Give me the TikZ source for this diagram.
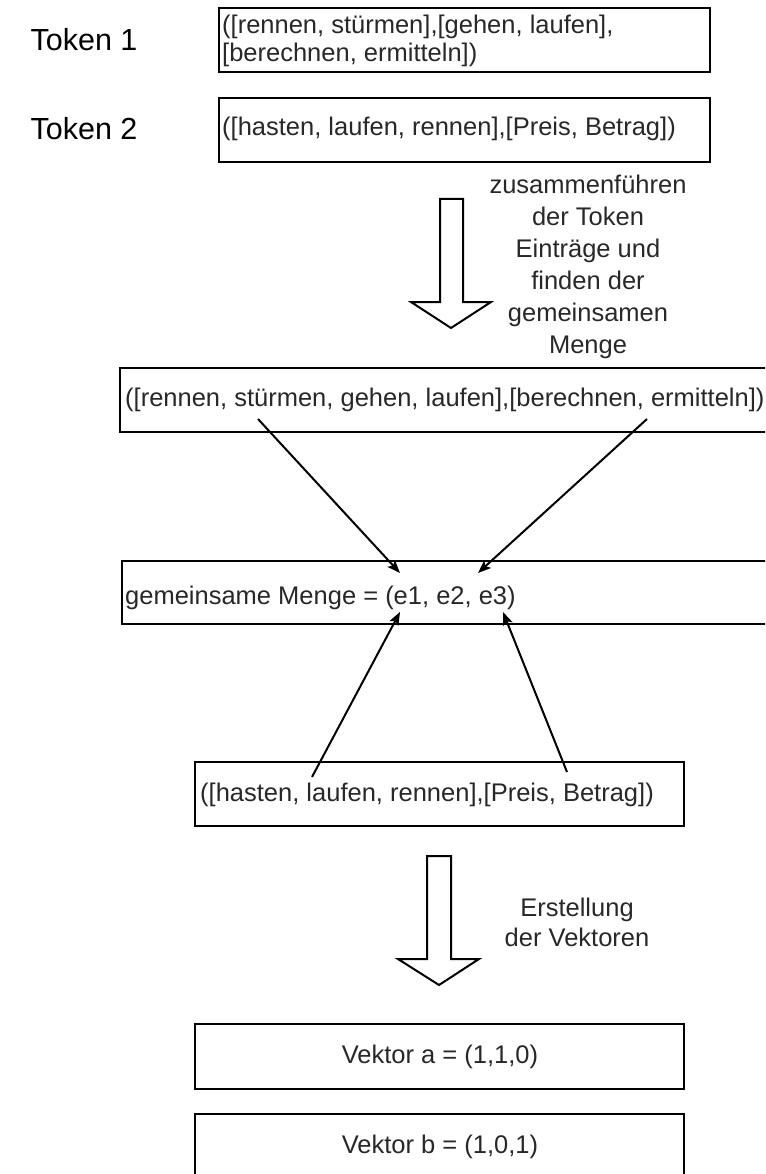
\documentclass[tikz,border=0pt]{standalone}
\usepackage{fontspec}
\setmainfont{Liberation Sans}
\usetikzlibrary{arrows.meta}
\definecolor{txt}{RGB}{40,40,40}
\tikzset{
  box/.style={draw=black, line width=2.2pt, fill=white, inner sep=0pt, anchor=north west},
  boxtext/.style={text=txt, font=\fontsize{25.5pt}{28pt}\selectfont, inner sep=0pt, anchor=west},
  tokenlabel/.style={text=black, font=\fontsize{30.5pt}{36pt}\selectfont, inner sep=0pt},
  note/.style={text=txt, font=\fontsize{25.5pt}{32pt}\selectfont, inner sep=0pt, align=center},
  conn/.style={line width=2pt, -{Stealth[length=13pt,width=10pt,inset=3pt]}},
  hollow/.style={draw=black, line width=2pt, fill=white, line join=miter},
}
\begin{document}
\begin{tikzpicture}[x=1pt,y=-1pt]
\useasboundingbox (0,0) rectangle (765,1174);
\clip (0,0) rectangle (765,1174);

% token labels
\node[tokenlabel] (tok1) at (84,40) {Token 1};
\node[tokenlabel] (tok2) at (84,129) {Token 2};

% token entry boxes
\node[box, minimum width=491pt, minimum height=64pt] (t1box) at (218,7) {};
\node[boxtext, align=left] (t1text) at (222,40.5) {([rennen, stürmen],[gehen, laufen],\\\relax[berechnen, ermitteln])};
\node[box, minimum width=491pt, minimum height=64pt] (t2box) at (218,97) {};
\node[boxtext] (t2text) at (222,129) {([hasten, laufen, rennen],[Preis, Betrag])};

% merge step arrow
\path[hollow] (440,199) -- (463,199) -- (463,302) -- (491,302) -- (451,328)
  -- (411,302) -- (440,302) -- cycle;
\node[note] (mergenote) at (588,267) {zusammenführen\\der Token\\Einträge und\\finden der\\gemeinsamen\\Menge};

% merged entries
\node[box, minimum width=660pt, minimum height=64pt] (mergedbox) at (119,367) {};
\node[boxtext] (mergedtext) at (125,400) {([rennen, stürmen, gehen, laufen],[berechnen, ermitteln])};

% common set
\node[box, minimum width=660pt, minimum height=63pt] (setbox) at (121,560) {};
\node[boxtext] (settext) at (125,598) {gemeinsame Menge = (e1, e2, e3)};

% second token
\node[box, minimum width=489pt, minimum height=64pt] (tok2box) at (194,761) {};
\node[boxtext] (tok2text) at (200,795) {([hasten, laufen, rennen],[Preis, Betrag])};

% connectors into the common set
\coordinate (m1) at (258,419);
\coordinate (m2) at (647,419);
\coordinate (s1) at (400,573);
\coordinate (s2) at (478,573);
\coordinate (s3) at (400,612);
\coordinate (s4) at (503,612);
\coordinate (h1) at (312,777);
\coordinate (h2) at (567,772);
\draw[conn] (m1) -- (s1);
\draw[conn] (m2) -- (s2);
\draw[conn] (h1) -- (s3);
\draw[conn] (h2) -- (s4);

% vector step arrow
\path[hollow] (427,856) -- (451,856) -- (451,959) -- (479,959) -- (439,985)
  -- (398,959) -- (427,959) -- cycle;
\node[note, font=\fontsize{25.5pt}{30pt}\selectfont] (vecnote) at (577,922) {Erstellung\\der Vektoren};

% resulting vectors
\node[box, minimum width=489pt, minimum height=65pt] (vabox) at (194,1023) {};
\node[boxtext, anchor=center] (vatext) at (440,1057) {Vektor a = (1,1,0)};
\node[box, minimum width=489pt, minimum height=65pt] (vbbox) at (194,1113) {};
\node[boxtext, anchor=center] (vbtext) at (440,1147) {Vektor b = (1,0,1)};
\end{tikzpicture}
\end{document}
